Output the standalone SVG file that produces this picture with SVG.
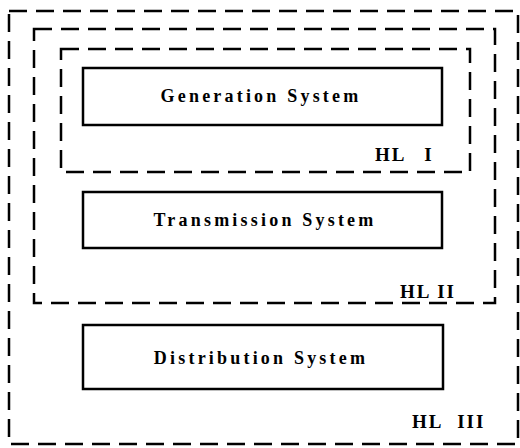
<svg xmlns="http://www.w3.org/2000/svg" width="520" height="448" viewBox="0 0 520 448">
<style>
.dash{fill:none;stroke:#000;stroke-width:2.5;stroke-dasharray:18 9}
.box{fill:#fff;stroke:#000;stroke-width:2.5}
.t{font-family:"Liberation Serif",serif;font-weight:bold;font-size:18px;letter-spacing:3.2px;text-anchor:middle;fill:#000}
.hl{font-family:"Liberation Serif",serif;font-weight:bold;font-size:19px;letter-spacing:2px;fill:#000}
</style>
<rect width="520" height="448" fill="#fff"/>
<g id="hl3"><rect class="dash" x="9" y="11" width="509" height="433"/><text class="hl" x="412" y="428" style="word-spacing:8px">HL III</text></g>
<g id="hl2"><rect class="dash" x="34" y="29" width="461" height="274"/><text class="hl" x="400" y="298">HL II</text></g>
<g id="hl1"><rect class="dash" x="61" y="49" width="409" height="123"/><text class="hl" x="375" y="161" style="word-spacing:12px">HL I</text></g>
<g id="gen"><rect class="box" x="83" y="68" width="359" height="57"/><text class="t" x="261" y="102">Generation System</text></g>
<g id="trans"><rect class="box" x="83" y="192" width="359" height="56"/><text class="t" x="265" y="226">Transmission System</text></g>
<g id="dist"><rect class="box" x="83" y="325" width="360" height="64"/><text class="t" x="261" y="364">Distribution System</text></g>
<g id="connectors"></g>
</svg>
